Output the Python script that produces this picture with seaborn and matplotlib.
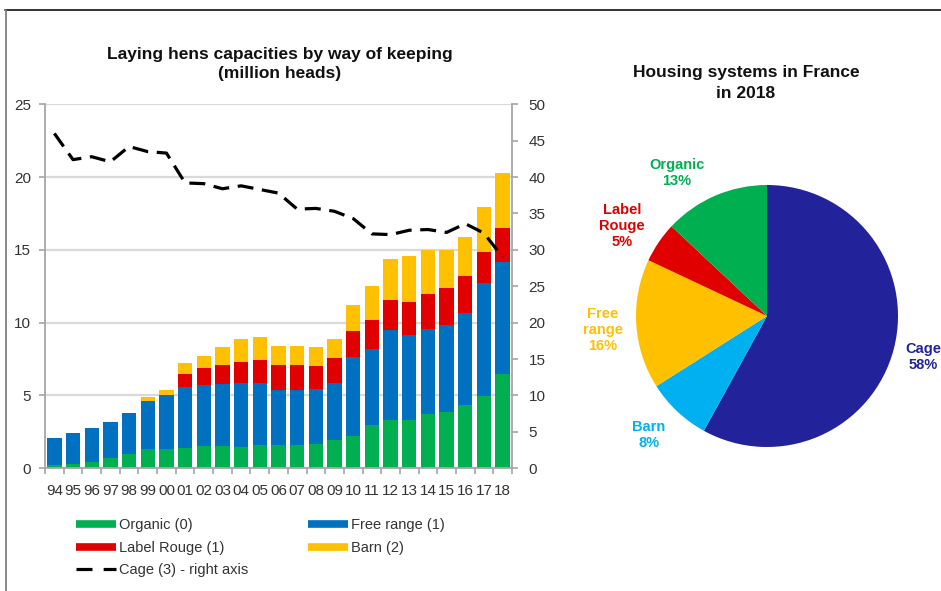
import numpy as np
import pandas as pd
import matplotlib
matplotlib.use("Agg")
import matplotlib.pyplot as plt
from matplotlib.lines import Line2D
from matplotlib.ticker import MultipleLocator, FixedLocator
import seaborn as sns

# ---- data (million heads) ----
years = ["94", "95", "96", "97", "98", "99", "00", "01", "02", "03", "04", "05", "06",
         "07", "08", "09", "10", "11", "12", "13", "14", "15", "16", "17", "18"]
organic = [0.20, 0.30, 0.45, 0.70, 1.00, 1.30, 1.30, 1.40, 1.50, 1.50, 1.45, 1.60, 1.60,
           1.60, 1.65, 1.95, 2.25, 3.00, 3.30, 3.30, 3.70, 3.90, 4.35, 4.95, 6.50]
free_range = [1.86, 2.15, 2.35, 2.50, 2.80, 3.30, 3.70, 4.20, 4.20, 4.30, 4.40, 4.25, 3.75,
              3.75, 3.80, 3.90, 5.40, 5.20, 6.20, 5.85, 5.85, 5.95, 6.35, 7.75, 7.70]
label_rouge = [0, 0, 0, 0, 0, 0, 0, 0.90, 1.20, 1.30, 1.45, 1.60, 1.75,
               1.75, 1.60, 1.70, 1.80, 2.00, 2.05, 2.25, 2.40, 2.50, 2.50, 2.15, 2.30]
barn = [0, 0, 0, 0, 0, 0.30, 0.40, 0.70, 0.80, 1.20, 1.60, 1.55, 1.30,
        1.30, 1.30, 1.35, 1.75, 2.30, 2.80, 3.20, 3.05, 2.65, 2.70, 3.10, 3.75]
cage = [46.0, 42.4, 42.8, 42.1, 44.2, 43.5, 43.3, 39.2, 39.1, 38.4, 38.8, 38.3, 37.8,
        35.6, 35.7, 35.3, 34.3, 32.2, 32.1, 32.7, 32.8, 32.4, 33.6, 32.3, 29.0]

# 2018 housing-system shares (%)
pie_names = ["Cage", "Barn", "Free\nrange", "Label\nRouge", "Organic"]
pie_shares = [58, 8, 16, 5, 13]

# ---- styling ----
C_ORG, C_FREE, C_LR, C_BARN = "#00B050", "#0070C0", "#E00000", "#FFC000"
C_CAGE, C_BARN_PIE = "#22229A", "#00B0F0"
GRID = "#D9D9D9"
AXC = "#A6A6A6"
TXT = "#333333"

sns.set_theme(style="white")
plt.rcParams["font.family"] = ["Liberation Sans", "DejaVu Sans"]

fig = plt.figure(figsize=(9.41, 5.91), dpi=100)
fig.patch.set_facecolor("white")
W, H = 941, 591

def fx(px):
    return px / W

def fy(py):
    return 1 - py / H

# ---- stacked bars ----
ax = fig.add_axes([fx(45), fy(468.3), fx(512) - fx(45), fy(104.3) - fy(468.3)])

cum1 = np.array(organic)
cum2 = cum1 + np.array(free_range)
cum3 = cum2 + np.array(label_rouge)
cum4 = cum3 + np.array(barn)
df = pd.DataFrame({"year": years, "organic": cum1, "free": cum2, "lr": cum3, "barn": cum4})

for col, color in [("barn", C_BARN), ("lr", C_LR), ("free", C_FREE), ("organic", C_ORG)]:
    sns.barplot(data=df, x="year", y=col, color=color, saturation=1, width=0.77,
                errorbar=None, ax=ax, linewidth=0, zorder=2)

ax.set_xlim(-0.5, len(years) - 0.5)
ax.set_ylim(0, 25)
ax.yaxis.set_major_locator(MultipleLocator(5))
ax.set_xlabel("")
ax.set_ylabel("")
ax.set_axisbelow(True)
ax.grid(axis="y", color=GRID, linewidth=1.6, zorder=0)
ax.grid(axis="x", visible=False)
for s in ["top", "right"]:
    ax.spines[s].set_visible(False)
for s in ["left", "bottom"]:
    ax.spines[s].set_color(AXC)
    ax.spines[s].set_linewidth(1.3)
ax.xaxis.set_minor_locator(FixedLocator(np.arange(-0.5, len(years), 1.0)))
ax.tick_params(axis="x", which="major", length=0, pad=11, labelsize=11, labelcolor=TXT)
ax.tick_params(axis="x", which="minor", bottom=True, length=4, width=1.2, color=AXC, direction="out")
ax.tick_params(axis="y", which="major", left=True, length=4, width=1.2, color=AXC,
               direction="out", pad=6, labelsize=11, labelcolor=TXT)

# ---- cage line on the right axis ----
ax2 = ax.twinx()
sns.lineplot(x=np.arange(len(years)), y=cage, ax=ax2, color="black", linewidth=2.3,
             linestyle=(0, (5, 2.7)), zorder=5)
ax2.set_ylim(0, 50)
ax2.set_xlim(-0.5, len(years) - 0.5)
ax2.yaxis.set_major_locator(MultipleLocator(5))
ax2.grid(False)
for s in ["top", "left", "bottom"]:
    ax2.spines[s].set_visible(False)
ax2.spines["right"].set_color(AXC)
ax2.spines["right"].set_linewidth(1.3)
ax2.tick_params(axis="y", right=True, length=4, width=1.2, color=AXC, direction="out",
                pad=8, labelsize=11, labelcolor=TXT)

fig.text(fx(280), fy(64), "Laying hens capacities by way of keeping\n(million heads)",
         ha="center", va="center", fontsize=12.5, fontweight="bold", color="#111111",
         linespacing=1.35)

# ---- legend ----
handles = [
    Line2D([], [], color=C_ORG, lw=5.5, solid_capstyle="butt"),
    Line2D([], [], color=C_LR, lw=5.5, solid_capstyle="butt"),
    Line2D([], [], color="black", lw=2.3, linestyle=(0, (5, 3.5))),
    Line2D([], [], color=C_FREE, lw=5.5, solid_capstyle="butt"),
    Line2D([], [], color=C_BARN, lw=5.5, solid_capstyle="butt"),
]
labels = ["Organic (0)", "Label Rouge (1)", "Cage (3) - right axis", "Free range (1)", "Barn (2)"]
fig.legend(handles, labels, loc="upper left", bbox_to_anchor=(fx(69), fy(511)), ncol=2,
           frameon=False, fontsize=10.5, handlelength=2.7, handletextpad=0.25,
           columnspacing=4.1, labelspacing=0.58, borderpad=0, labelcolor=TXT)

# ---- pie ----
axp = fig.add_axes([fx(636), fy(447), fx(262), 262 / H])
pie_colors = [C_CAGE, C_BARN_PIE, C_BARN, C_LR, C_ORG]
axp.pie(pie_shares, colors=pie_colors, startangle=90, counterclock=False, radius=1,
        wedgeprops=dict(linewidth=0))
axp.set_xlim(-1, 1)
axp.set_ylim(-1, 1)
axp.set_aspect("equal")
axp.axis("off")

label_pos = [(1.19, -0.313), (-0.90, -0.908), (-1.252, -0.107), (-1.107, 0.687), (-0.687, 1.09)]
label_colors = [C_CAGE, C_BARN_PIE, C_BARN, C_LR, C_ORG]
for name, share, (lx, ly), col in zip(pie_names, pie_shares, label_pos, label_colors):
    axp.text(lx, ly, f"{name}\n{share}%", ha="center", va="center", fontsize=10.5,
             fontweight="bold", color=col, clip_on=False, linespacing=1.15)

fig.text(fx(746), fy(83), "Housing systems in France\nin 2018", ha="center", va="center",
         fontsize=12.5, fontweight="bold", color="#111111", linespacing=1.55)

# ---- outer frame lines ----
fig.add_artist(Line2D([fx(5), 1.0], [fy(10), fy(10)], color="#222222", lw=1.3))
fig.add_artist(Line2D([fx(6), fx(6)], [fy(10), 0.0], color="#808080", lw=1.3))

fig.savefig("out.png", dpi=100, facecolor="white")
